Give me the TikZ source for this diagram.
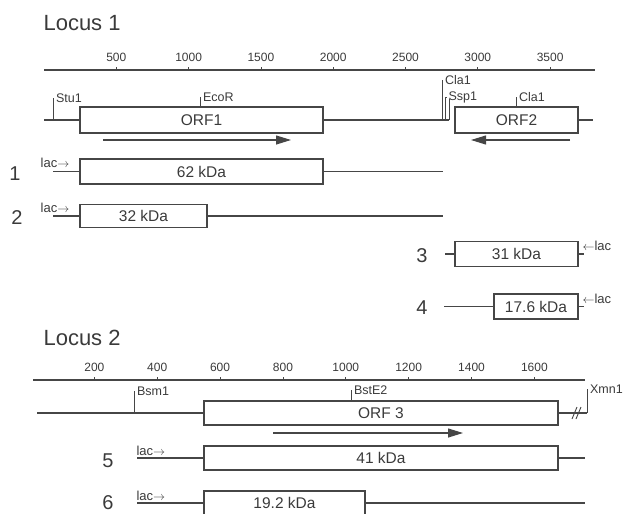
\documentclass[tikz,border=0pt]{standalone}
\usepackage{fontspec}
\setmainfont{Liberation Sans}
\usetikzlibrary{arrows.meta}
\definecolor{cink}{RGB}{58,58,58}
\definecolor{cline}{RGB}{70,70,70}

\begin{document}
\begin{tikzpicture}[x=1pt, y=-1pt, line width=1.1pt, draw=cline, text=cink,
    locus/.style={anchor=west, inner sep=0pt, font=\fontsize{22}{24}\selectfont},
    scalenum/.style={inner sep=0pt, font=\fontsize{12}{13}\selectfont},
    orf/.style={draw, line width=1.1pt, inner sep=0pt, minimum height=26pt, font=\fontsize{15.5}{17}\selectfont},
    prod/.style={orf, minimum height=25pt},
    site/.style={anchor=west, inner sep=2pt, font=\fontsize{12.5}{13}\selectfont},
    lac/.style={inner sep=0pt, font=\fontsize{13}{14}\selectfont},
    rownum/.style={inner sep=0pt, font=\fontsize{20}{22}\selectfont},
    orfarrow/.style={line width=1.1pt, -{Triangle[length=15pt, width=9pt]}}]

  \useasboundingbox (0,0) rectangle (627,514);
  \clip (0,0) rectangle (627,514);

  % ---------------- locus 1 ----------------
  \node[locus] (loc1) at (43,23) {Locus 1};

  \coordinate (s1a) at (44,70);
  \coordinate (s1b) at (595,70);
  \draw[line width=1.4pt] (s1a) -- (s1b);
  \foreach \v in {500,1000,...,3500} {
    \draw[line width=0.8pt] ({44+\v*0.1446},70) -- ++(0,-3);
    \node[scalenum] (n1-\v) at ({44+\v*0.1446},57) {\v};
  }

  % map
  \node[orf, minimum width=243pt] (orf1) at (201.5,120) {ORF1};
  \node[orf, minimum width=123pt] (orf2) at (516.5,120) {ORF2};
  \coordinate (g1a) at (44,120);
  \coordinate (g1b) at (449,120);
  \coordinate (g1c) at (593,120);
  \draw (g1a) -- (orf1.west);
  \draw (orf1.east) -- (g1b);
  \draw (orf2.east) -- (g1c);

  % restriction sites
  \node[site] (stu)  at (53.5,98)  {Stu1};
  \node[site] (eco)  at (200.5,97) {EcoR};
  \node[site] (cla)  at (442.5,80) {Cla1};
  \node[site] (ssp)  at (446,97) {Ssp1};
  \node[site] (cla2) at (516.5,97) {Cla1};
  \coordinate (stuF) at (53,120);
  \coordinate (ecoF) at (200,107);
  \coordinate (claF) at (442,120);
  \coordinate (sspF) at (445.5,120);
  \coordinate (cla2F) at (516,107);
  \foreach \s in {stu,eco,cla,ssp,cla2} \draw[line width=1pt] (\s.west) -| (\s F);
  \draw[line width=1pt] (449,120) -- (449,99);

  \coordinate (a1s) at (103,140);
  \coordinate (a1e) at (291,140);
  \coordinate (a2s) at (570,140);
  \coordinate (a2e) at (471,140);
  \draw[orfarrow] (a1s) -- (a1e);
  \draw[orfarrow] (a2s) -- (a2e);

  % products 1-4
  \node[rownum] (r1) at (15,174) {1};
  \node[lac] (lac1) at (55,163) {lac$\rightarrow$};
  \node[prod, minimum width=243pt] (p1) at (201.5,171.5) {62 kDa};
  \coordinate (p1a) at (53,171.5);
  \coordinate (p1b) at (443,171.5);
  \draw (p1a) -- (p1.west);
  \draw (p1.east) -- (p1b);

  \node[rownum] (r2) at (17,218) {2};
  \node[lac] (lac2) at (55,208) {lac$\rightarrow$};
  \node[prod, minimum width=127pt, minimum height=23pt] (p2) at (143.5,216) {32 kDa};
  \coordinate (p2a) at (53,216);
  \coordinate (p2b) at (443,216);
  \draw (p2a) -- (p2.west);
  \draw (p2.east) -- (p2b);

  \node[rownum] (r3) at (422,256) {3};
  \node[prod, minimum width=123pt] (p3) at (516.5,254) {31 kDa};
  \node[lac, anchor=west] (lac3) at (582,246) {$\leftarrow$lac};
  \coordinate (p3a) at (445,254);
  \coordinate (p3b) at (584,254);
  \draw (p3a) -- (p3.west);
  \draw (p3.east) -- (p3b);

  \node[rownum] (r4) at (422,308) {4};
  \node[prod, minimum width=84pt] (p4) at (536,306.5) {17.6 kDa};
  \node[lac, anchor=west] (lac4) at (582,299) {$\leftarrow$lac};
  \coordinate (p4a) at (444,306.5);
  \coordinate (p4b) at (584,306.5);
  \draw (p4a) -- (p4.west);
  \draw (p4.east) -- (p4b);

  % ---------------- locus 2 ----------------
  \node[locus] (loc2) at (43,338) {Locus 2};

  \coordinate (s2a) at (33,380);
  \coordinate (s2b) at (585,380);
  \draw[line width=1.4pt] (s2a) -- (s2b);
  \foreach \v in {200,400,...,1600} {
    \draw[line width=0.8pt] ({31.5+\v*0.3143},380) -- ++(0,-3);
    \node[scalenum] (n2-\v) at ({31.5+\v*0.3143},367) {\v};
  }

  % map
  \node[orf, minimum width=354pt, minimum height=24pt] (orf3) at (381,413) {ORF 3};
  \coordinate (g2a) at (37,413);
  \coordinate (g2b) at (587,413);
  \draw (g2a) -- (orf3.west);
  \draw (orf3.east) -- (g2b);
  \draw[line width=0.9pt] (572,419) -- (577,407) (576,419) -- (581,407);

  \node[site] (bsm) at (134.5,391) {Bsm1};
  \node[site] (bst) at (351.5,390) {BstE2};
  \node[site] (xmn) at (587.5,389) {Xmn1};
  \coordinate (bsmF) at (134,413);
  \coordinate (bstF) at (351,401);
  \coordinate (xmnF) at (587,413);
  \foreach \s in {bsm,bst,xmn} \draw[line width=1pt] (\s.west) -| (\s F);

  \coordinate (a3s) at (273,433);
  \coordinate (a3e) at (463,433);
  \draw[orfarrow] (a3s) -- (a3e);

  % products 5-6
  \node[rownum] (r5) at (108,461) {5};
  \node[lac, anchor=south west] (lac5) at (136,456) {lac$\rightarrow$};
  \node[prod, minimum width=354pt, minimum height=24pt] (p5) at (381,458) {41 kDa};
  \coordinate (p5a) at (137,458);
  \coordinate (p5b) at (585,458);
  \draw (p5a) -- (p5.west);
  \draw (p5.east) -- (p5b);

  \node[rownum] (r6) at (108,503) {6};
  \node[lac, anchor=south west] (lac6) at (136,501) {lac$\rightarrow$};
  \node[prod, minimum width=161pt, minimum height=24pt] (p6) at (284.5,503) {19.2 kDa};
  \coordinate (p6a) at (137,503);
  \coordinate (p6b) at (585,503);
  \draw (p6a) -- (p6.west);
  \draw (p6.east) -- (p6b);
\end{tikzpicture}
\end{document}
